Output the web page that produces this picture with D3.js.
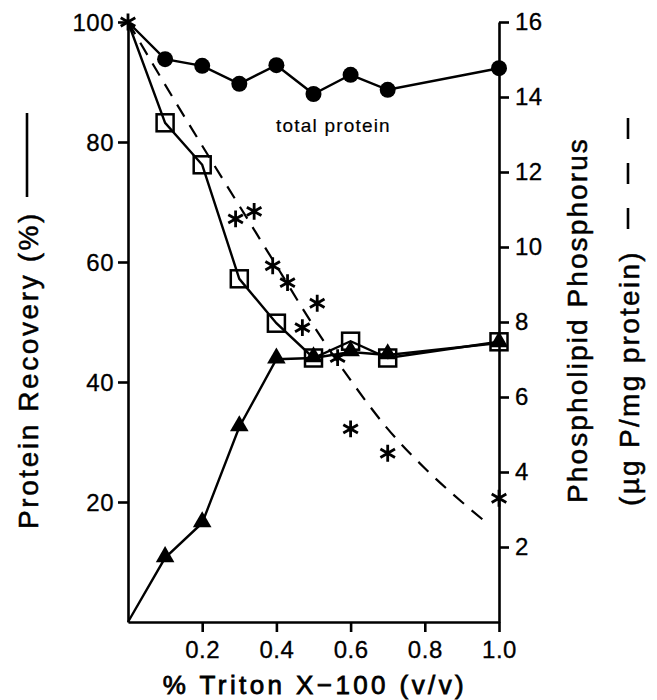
<!DOCTYPE html>
<html>
<head>
<meta charset="utf-8">
<script src="https://cdn.jsdelivr.net/npm/d3@7"></script>
<style>
  body { margin: 0; background: #fff; }
  svg { display: block; }
  text { font-family: "Liberation Sans", Arial, sans-serif; fill: #000; }
</style>
</head>
<body>
<div id="chart"></div>
<script>
// % Triton X-100 concentrations
const triton = [0, 0.1, 0.2, 0.3, 0.4, 0.5, 0.6, 0.7, 1.0];

// protein recovery (%), left axis
const totalProtein = [100, 93.8, 92.7, 89.7, 92.8, 88.0, 91.2, 88.7, 92.3];
const openSquares  = [100, 83.2, 76.2, 57.2, 49.8, 44.0, 46.8, 44.0, 46.7];
const triangles    = [0, 10.7, 16.5, 32.5, 43.8, 44.0, 45.0, 44.5, 46.5];

// phospholipid phosphorus (ug P/mg protein), right axis
const phosX = [0, 0.29, 0.34, 0.39, 0.43, 0.47, 0.51, 0.565, 0.60, 0.70, 1.0];
const phosY = [16, 10.75, 10.95, 9.5, 9.05, 7.85, 8.5, 7.05, 5.15, 4.5, 3.3];

// dashed trend curve through the phosphorus values
const trendX = [0, 0.12, 0.2, 0.3, 0.4, 0.5, 0.6, 0.7, 0.8, 0.9, 0.96];
const trendY = [16, 14.0, 12.7, 11.1, 9.5, 7.9, 6.45, 5.15, 4.1, 3.2, 2.7];

const xTicks = [0.2, 0.4, 0.6, 0.8, 1.0];
const leftTicks = [20, 40, 60, 80, 100];
const rightTicks = [2, 4, 6, 8, 10, 12, 14, 16];

const width = 657, height = 700;

const svg = d3.select('#chart').append('svg')
    .attr('width', width)
    .attr('height', height);

const x = d3.scaleLinear().domain([0, 1]).range([128, 499]);
const yL = d3.scaleLinear().domain([0, 100]).range([622, 22]);
const yR = d3.scaleLinear().domain([0, 16]).range([622, 22]);

// axes
const styleAxis = g => {
    g.select('.domain').attr('stroke', '#000').attr('stroke-width', 2.6);
    g.selectAll('.tick line').attr('stroke', '#000').attr('stroke-width', 2.6);
    g.selectAll('.tick text')
        .attr('font-family', '"Liberation Sans", Arial, sans-serif')
        .attr('font-size', 24)
        .attr('letter-spacing', 0.5)
        .attr('fill', '#000')
        .attr('stroke', '#000')
        .attr('stroke-width', 0.3);
};

svg.append('g')
    .attr('transform', `translate(0,${yL(0)})`)
    .call(d3.axisBottom(x).tickValues(xTicks).tickFormat(d3.format('.1f'))
        .tickSize(10).tickSizeOuter(0).tickPadding(9))
    .call(styleAxis);

svg.append('g')
    .attr('transform', `translate(${x(0)},0)`)
    .call(d3.axisLeft(yL).tickValues(leftTicks).tickFormat(d3.format('d'))
        .tickSize(10).tickSizeOuter(0).tickPadding(4))
    .call(styleAxis)
    .selectAll('.tick text').attr('dy', '0.36em');

svg.append('g')
    .attr('transform', `translate(${x(1)},0)`)
    .call(d3.axisRight(yR).tickValues(rightTicks).tickFormat(d3.format('d'))
        .tickSize(10).tickSizeOuter(0).tickPadding(6))
    .call(styleAxis);

// dashed phosphorus curve
const trend = trendX.map((v, i) => [v, trendY[i]]);
svg.append('path')
    .datum(trend)
    .attr('fill', 'none')
    .attr('stroke', '#000')
    .attr('stroke-width', 2.2)
    .attr('stroke-dasharray', '14,10')
    .attr('d', d3.line().x(d => x(d[0])).y(d => yR(d[1])).curve(d3.curveMonotoneX));

// solid series
const line = d3.line().x(d => x(d[0])).y(d => yL(d[1]));
const series = [
    { vals: totalProtein, shape: 'circle' },
    { vals: openSquares, shape: 'square' },
    { vals: triangles, shape: 'triangle' }
];

series.forEach(s => {
    const pts = triton.map((v, i) => [v, s.vals[i]]);
    svg.append('path')
        .datum(pts)
        .attr('fill', 'none')
        .attr('stroke', '#000')
        .attr('stroke-width', 2.4)
        .attr('d', line);
});

// markers (skip origin, which carries only the asterisk)
const mk = (s) => triton.map((v, i) => [v, s.vals[i]]).filter(d => d[0] > 0);

svg.append('g').selectAll('circle')
    .data(mk(series[0]))
    .enter().append('circle')
    .attr('cx', d => x(d[0]))
    .attr('cy', d => yL(d[1]))
    .attr('r', 8)
    .attr('fill', '#000');

svg.append('g').selectAll('path')
    .data(mk(series[2]))
    .enter().append('path')
    .attr('transform', d => `translate(${x(d[0])},${yL(d[1]) - 1})`)
    .attr('d', d3.symbol(d3.symbolTriangle, 150)())
    .attr('fill', '#000');

svg.append('g').selectAll('rect')
    .data(mk(series[1]))
    .enter().append('rect')
    .attr('x', d => x(d[0]) - 8.5)
    .attr('y', d => yL(d[1]) - 8.5)
    .attr('width', 17)
    .attr('height', 17)
    .attr('fill', 'none')
    .attr('stroke', '#000')
    .attr('stroke-width', 2.5);

svg.append('g').selectAll('path')
    .data(phosX.map((v, i) => [v, phosY[i]]))
    .enter().append('path')
    .attr('transform', d => `translate(${x(d[0])},${yR(d[1])})`)
    .attr('d', d3.symbol(d3.symbolAsterisk, 200)())
    .attr('fill', 'none')
    .attr('stroke', '#000')
    .attr('stroke-width', 2.8);

// series label
svg.append('text')
    .attr('x', 276)
    .attr('y', 132)
    .attr('font-size', 19)
    .attr('letter-spacing', 1.2)
    .attr('stroke', '#000')
    .attr('stroke-width', 0.2)
    .text('total protein');

// axis titles
svg.append('text')
    .attr('x', 315)
    .attr('y', 694)
    .attr('text-anchor', 'middle')
    .attr('font-size', 26)
    .attr('letter-spacing', 3.4)
    .attr('stroke', '#000')
    .attr('stroke-width', 0.8)
    .text('% Triton X\u2212100 (v/v)');

svg.append('text')
    .attr('transform', 'translate(38,370) rotate(-90)')
    .attr('text-anchor', 'middle')
    .attr('font-size', 28)
    .attr('letter-spacing', 2.6)
    .attr('stroke', '#000')
    .attr('stroke-width', 0.5)
    .text('Protein Recovery (%)');

svg.append('line')
    .attr('x1', 27).attr('x2', 27)
    .attr('y1', 113).attr('y2', 197)
    .attr('stroke', '#000')
    .attr('stroke-width', 2.6);

svg.append('text')
    .attr('transform', 'translate(587,320) rotate(-90)')
    .attr('text-anchor', 'middle')
    .attr('font-size', 28)
    .attr('letter-spacing', 2.1)
    .attr('stroke', '#000')
    .attr('stroke-width', 0.5)
    .text('Phospholipid Phosphorus');

svg.append('line')
    .attr('x1', 628).attr('x2', 628)
    .attr('y1', 229).attr('y2', 117)
    .attr('stroke', '#000')
    .attr('stroke-width', 2.6)
    .attr('stroke-dasharray', '21,24');

svg.append('text')
    .attr('transform', 'translate(639,378) rotate(-90)')
    .attr('text-anchor', 'middle')
    .attr('font-size', 28)
    .attr('letter-spacing', 2.3)
    .attr('stroke', '#000')
    .attr('stroke-width', 0.5)
    .text('(\u00b5g P/mg protein)');
</script>
</body>
</html>
